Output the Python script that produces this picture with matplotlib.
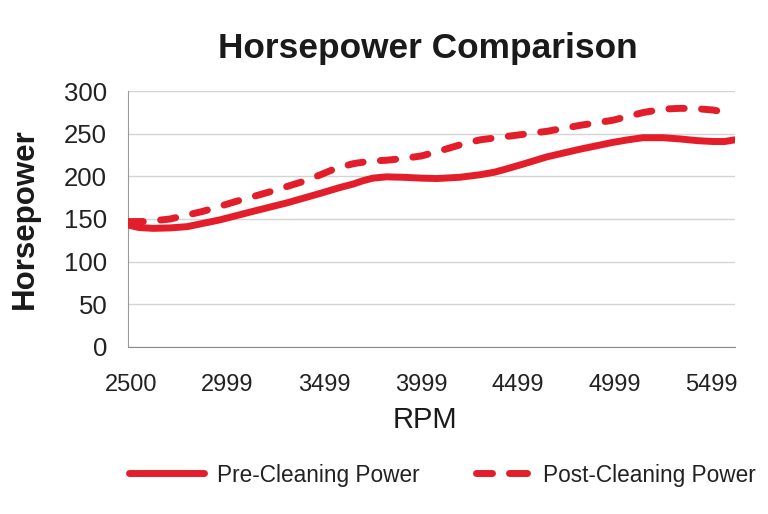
import matplotlib
matplotlib.use("Agg")
import matplotlib.pyplot as plt
from matplotlib.lines import Line2D

plt.rcParams['font.family'] = ['Liberation Sans', 'DejaVu Sans']

# values
rpm_pre = [2484, 2540, 2614, 2700, 2790, 2960, 3131, 3307, 3477, 3580, 3648,
           3700, 3751, 3820, 3906, 4000, 4082, 4200, 4305, 4380, 4444, 4520,
           4651, 4822, 4992, 5070, 5147, 5250, 5339, 5430, 5509, 5570, 5623]
hp_pre = [143, 140, 139, 139.5, 141, 149, 159, 169, 180, 187, 191,
          195, 198, 199.5, 199, 198, 197.5, 199, 202, 205, 209, 214,
          223, 232, 240, 243, 245.5, 245.5, 244, 242, 241, 241, 243]

rpm_post = [2484, 2580, 2702, 2872, 3048, 3219, 3389, 3480, 3565, 3650, 3736,
            3820, 3906, 4000, 4082, 4200, 4305, 4444, 4651, 4822, 4992,
            5147, 5250, 5339, 5430, 5509, 5560]
hp_post = [147, 147, 150, 159, 171, 182, 194, 202, 210, 215, 218,
           219, 221, 224, 229, 237, 243, 247, 253, 260, 266,
           275, 279, 280, 279.5, 278, 276]

x_ticks = [2500, 2999, 3499, 3999, 4499, 4999, 5499]
y_ticks = [0, 50, 100, 150, 200, 250, 300]
series_names = ['Pre-Cleaning Power', 'Post-Cleaning Power']

RED = '#e31e2a'
LW = 5
DASH = (2.2, 2.5)
W, H = 768, 514

fig = plt.figure(figsize=(7.68, 5.14), dpi=100)
ax = fig.add_axes([0.1667, 0.3255, 0.7903, 0.4969])

ax.plot(rpm_pre, hp_pre, color=RED, lw=LW, solid_capstyle='round',
        solid_joinstyle='round', zorder=3)
ax.plot(rpm_post, hp_post, color=RED, lw=LW, dashes=DASH,
        dash_capstyle='round', dash_joinstyle='round', zorder=3)

ax.set_xlim(2484, 5623)
ax.set_ylim(0, 300)
ax.set_xticks(x_ticks)
ax.set_xticklabels([str(t) for t in x_ticks])
ax.set_yticks(y_ticks)
ax.tick_params(axis='both', length=0, colors='#222222')
ax.tick_params(axis='x', pad=20, labelsize=17)
ax.tick_params(axis='y', pad=15, labelsize=18.5)

ax.grid(axis='y', color='#d4d4d4', lw=1)
ax.set_axisbelow(True)
for s in ['top', 'right']:
    ax.spines[s].set_visible(False)
ax.spines['left'].set_color('#9a9a9a')
ax.spines['bottom'].set_color('#8a8a8a')

fig.text(0.557, 0.906, 'Horsepower Comparison', ha='center', va='center',
         fontsize=25.4, fontweight='bold', color='#1a1a1a')
fig.text(0.033, 0.574, 'Horsepower', ha='center', va='center', rotation=90,
         fontsize=22.5, fontweight='bold', color='#1a1a1a')
fig.text(0.553, 0.183, 'RPM', ha='center', va='center', fontsize=21,
         color='#1a1a1a')

# legend drawn by hand (the dashed key is shorter than the solid one)
ly = 1 - 473 / H
fig.add_artist(Line2D([128.5 / W, 203.5 / W], [ly, ly], color=RED, lw=LW,
                      solid_capstyle='round', transform=fig.transFigure))
for x0, x1 in [(475.5, 491.5), (508.5, 526.5)]:
    fig.add_artist(Line2D([x0 / W, x1 / W], [ly, ly], color=RED, lw=LW,
                          solid_capstyle='round', transform=fig.transFigure))
fig.text(217 / W, ly, series_names[0], ha='left', va='center_baseline',
         fontsize=16.3, color='#222222')
fig.text(543 / W, ly, series_names[1], ha='left', va='center_baseline',
         fontsize=16.3, color='#222222')

fig.savefig('out.png', dpi=100, facecolor='white')
